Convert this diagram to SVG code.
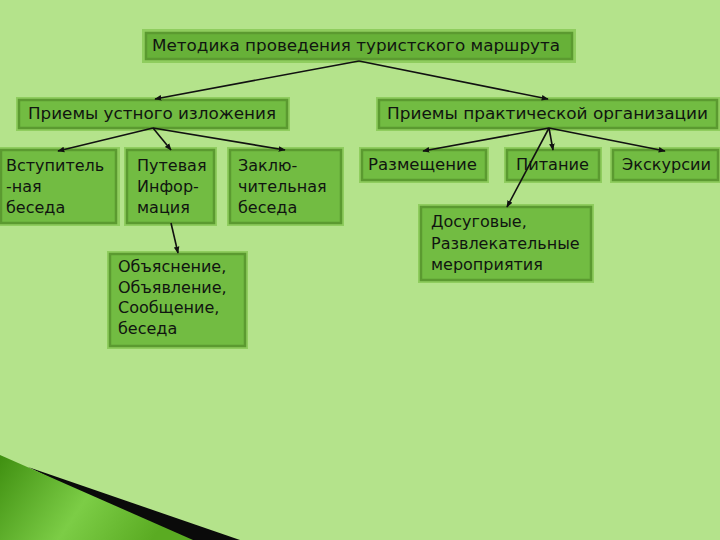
<svg xmlns="http://www.w3.org/2000/svg" width="720" height="540" viewBox="0 0 720 540">
<defs>
<style>
.rim{fill:#8fcd5e}
.box{fill:#72bc42;stroke:#5b9a30;stroke-width:2.5}
.t{font-family:"DejaVu Sans","Liberation Sans",sans-serif;font-size:16px;fill:#101510}
.c{stroke:#111;stroke-width:1.6;fill:none;marker-end:url(#ah)}
</style>
<marker id="ah" viewBox="0 0 10 10" refX="9" refY="5" markerWidth="7" markerHeight="7" orient="auto" markerUnits="userSpaceOnUse">
<path d="M0,1 L10,5 L0,9 z" fill="#111"/>
</marker>
<linearGradient id="wg" x1="0" y1="0" x2="1" y2="0.3">
<stop offset="0" stop-color="#3f8f10"/>
<stop offset="0.55" stop-color="#7ccd46"/>
<stop offset="1" stop-color="#5aab22"/>
</linearGradient>
</defs>
<rect width="720" height="540" fill="#b4e38b"/>
<g id="decor">
<polygon points="28,467 240,540 186,540 100,502" fill="#0a0a0a"/>
<polygon points="0,455 193,540 0,540" fill="url(#wg)"/>
</g>
<g id="n-title">
<rect class="rim" x="142" y="29" width="434" height="34"/>
<rect class="box" x="146" y="33" width="426" height="26" style="fill:#67b138"/>
<text class="t" x="152" y="51" textLength="408" lengthAdjust="spacingAndGlyphs">Методика проведения туристского маршрута</text>
</g>
<g id="n-oral">
<rect class="rim" x="16" y="97" width="274" height="34"/>
<rect class="box" x="19" y="100" width="268" height="28"/>
<text class="t" x="28" y="119" textLength="248" lengthAdjust="spacingAndGlyphs">Приемы устного изложения</text>
</g>
<g id="n-practical">
<rect class="rim" x="376" y="97" width="344" height="34"/>
<rect class="box" x="379" y="100" width="338" height="28"/>
<text class="t" x="387" y="119" textLength="321" lengthAdjust="spacingAndGlyphs">Приемы практической организации</text>
</g>
<g id="n-intro">
<rect class="rim" x="0" y="147" width="120" height="79"/>
<rect class="box" x="1" y="150" width="115" height="73"/>
<text class="t" x="6" y="171">Вступитель</text>
<text class="t" x="6" y="192">-ная</text>
<text class="t" x="6" y="213">беседа</text>
</g>
<g id="n-info">
<rect class="rim" x="124" y="147" width="93" height="79"/>
<rect class="box" x="127" y="150" width="87" height="73"/>
<text class="t" x="137" y="171">Путевая</text>
<text class="t" x="137" y="192">Инфор-</text>
<text class="t" x="137" y="213">мация</text>
</g>
<g id="n-final">
<rect class="rim" x="227" y="147" width="117" height="79"/>
<rect class="box" x="230" y="150" width="111" height="73"/>
<text class="t" x="238" y="171">Заклю-</text>
<text class="t" x="238" y="192">чительная</text>
<text class="t" x="238" y="213">беседа</text>
</g>
<g id="n-explain">
<rect class="rim" x="107" y="251" width="141" height="98"/>
<rect class="box" x="110" y="254" width="135" height="92"/>
<text class="t" x="118" y="272">Объяснение,</text>
<text class="t" x="118" y="292.5">Объявление,</text>
<text class="t" x="118" y="313">Сообщение,</text>
<text class="t" x="118" y="333.5">беседа</text>
</g>
<g id="n-place">
<rect class="rim" x="359" y="147" width="130" height="36"/>
<rect class="box" x="362" y="150" width="124" height="30"/>
<text class="t" x="368" y="170" textLength="109" lengthAdjust="spacingAndGlyphs">Размещение</text>
</g>
<g id="n-food">
<rect class="rim" x="504" y="147" width="98" height="36"/>
<rect class="box" x="507" y="150" width="92" height="30"/>
<text class="t" x="516" y="170" textLength="73" lengthAdjust="spacingAndGlyphs">Питание</text>
</g>
<g id="n-excursion">
<rect class="rim" x="610" y="147" width="110" height="36"/>
<rect class="box" x="613" y="150" width="105" height="30"/>
<text class="t" x="622" y="170" textLength="89" lengthAdjust="spacingAndGlyphs">Экскурсии</text>
</g>
<g id="n-leisure">
<rect class="rim" x="418" y="204" width="176" height="79"/>
<rect class="box" x="421" y="207" width="170" height="73"/>
<text class="t" x="431" y="227">Досуговые,</text>
<text class="t" x="431" y="249">Развлекательные</text>
<text class="t" x="431" y="270">мероприятия</text>
</g>
<g id="connectors">
<path class="c" d="M359,61 L155,99"/>
<path class="c" d="M359,61 L548,99"/>
<path class="c" d="M153,128 L58,151"/>
<path class="c" d="M153,128 L171,150"/>
<path class="c" d="M153,128 L285,150"/>
<path class="c" d="M549,128 L423,151"/>
<path class="c" d="M549,128 L553,150"/>
<path class="c" d="M549,128 L665,151"/>
<path class="c" d="M549,128 L507,207"/>
<path class="c" d="M171,223 L178,253"/>
</g>
</svg>
